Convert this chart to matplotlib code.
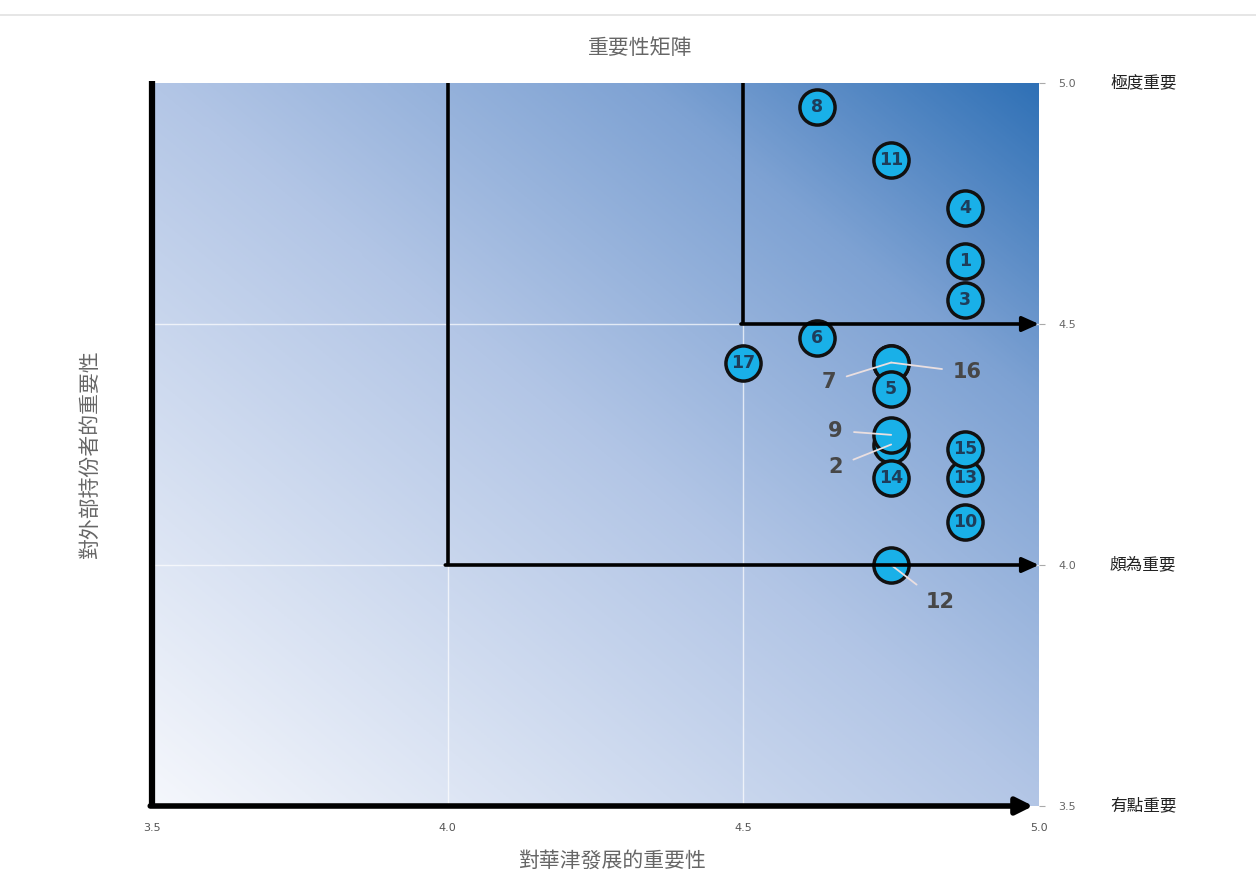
import numpy as np
import matplotlib
matplotlib.use("Agg")
import matplotlib.pyplot as plt
from matplotlib.colors import LinearSegmentedColormap
from matplotlib.lines import Line2D

plt.rcParams['font.family'] = ['Noto Sans CJK TC', 'DejaVu Sans']

# ---- data ----
ids = [1, 2, 3, 4, 5, 6, 7, 8, 9, 10, 11, 12, 13, 14, 15, 16, 17]
x_vals = [4.875, 4.75, 4.875, 4.875, 4.75, 4.625, 4.75, 4.625, 4.75, 4.875,
          4.75, 4.75, 4.875, 4.75, 4.875, 4.75, 4.5]
y_vals = [4.63, 4.25, 4.55, 4.74, 4.365, 4.47, 4.42, 4.95, 4.27, 4.09,
          4.84, 4.00, 4.18, 4.18, 4.24, 4.42, 4.42]
# ids whose number is written outside the circle, with label offset (points)
outside_ids = [7, 16, 9, 2, 12]
outside_offsets = [(-45, -14), (55, -7), (-40, 3), (-40, -16), (35, -27)]

tick_vals = [3.5, 4.0, 4.5, 5.0]
tick_labels = ["3.5", "4.0", "4.5", "5.0"]
level_vals = [5.0, 4.0, 3.5]
level_labels = ["極度重要", "頗為重要", "有點重要"]
title = "重要性矩陣"
xlabel = "對華津發展的重要性"
ylabel = "對外部持份者的重要性"

# ---- figure ----
fig = plt.figure(figsize=(12.56, 8.83), dpi=100)
L, R, T, B = 152, 1039, 83, 806
W, H = 1256, 883
ax = fig.add_axes([L / W, 1 - B / H, (R - L) / W, (B - T) / H])
ax.set_xlim(3.5, 5.0)
ax.set_ylim(3.5, 5.0)

# gradient background
cmap = LinearSegmentedColormap.from_list(
    "bg", [(0.0, "#f5f7fc"), (0.5, "#b3c6e6"), (0.78, "#7ea2d3"), (1.0, "#3071b6")])
gx, gy = np.meshgrid(np.linspace(0, 1, 300), np.linspace(0, 1, 300))
g = (gx + gy) / 2
ax.imshow(g, extent=(3.5, 5.0, 3.5, 5.0), origin="lower", cmap=cmap,
          aspect="auto", zorder=0, interpolation="bilinear")

# grid
for v in [4.0, 4.5]:
    ax.axvline(v, color="white", lw=1, alpha=0.7, zorder=1)
    ax.axhline(v, color="white", lw=1, alpha=0.7, zorder=1)

for s in ax.spines.values():
    s.set_visible(False)

# points: circles with outside labels drawn first, others on top
order = sorted(range(len(ids)), key=lambda k: (ids[k] not in outside_ids, ids[k]))
for z, k in enumerate(order):
    i, xv, yv = ids[k], x_vals[k], y_vals[k]
    zz = 3 + z * 0.01
    ax.scatter([xv], [yv], s=640, facecolor="#19b0e8", edgecolor="#111111",
               linewidth=2.5, zorder=zz, clip_on=False)
    if i not in outside_ids:
        ax.text(xv, yv, str(i), ha="center", va="center", fontsize=12.5,
                fontweight="bold", color="#1e3d5a", fontfamily="DejaVu Sans",
                zorder=zz + 0.005)

for i, off in zip(outside_ids, outside_offsets):
    k = ids.index(i)
    ax.annotate(str(i), (x_vals[k], y_vals[k]), xytext=off,
                textcoords="offset points", ha="center", va="center",
                fontsize=15, fontweight="bold", color="#474747",
                fontfamily="DejaVu Sans",
                arrowprops=dict(arrowstyle="-", color="#eadfe0", lw=1.3,
                                shrinkA=6, shrinkB=0),
                zorder=4)

# quadrant lines
def arrow(y, x0, lw):
    ax.annotate("", xy=(5.0, y), xytext=(x0, y),
                arrowprops=dict(arrowstyle="-|>,head_length=1.0,head_width=0.45",
                                color="black", lw=lw, shrinkA=0, shrinkB=0),
                zorder=5, annotation_clip=False)

ax.plot([4.0, 4.0], [5.0, 4.0], color="black", lw=2.6, zorder=5,
        solid_capstyle="butt", clip_on=False)
arrow(4.0, 4.0 - 0.004, 2.6)
ax.plot([4.5, 4.5], [5.0, 4.5], color="black", lw=2.6, zorder=5,
        solid_capstyle="butt", clip_on=False)
arrow(4.5, 4.5 - 0.004, 2.6)
ax.plot([3.5, 3.5], [5.005, 3.497], color="black", lw=4.5, zorder=5,
        solid_capstyle="butt", clip_on=False)
ax.annotate("", xy=(4.99, 3.5), xytext=(3.497, 3.5),
            arrowprops=dict(arrowstyle="-|>,head_length=1.0,head_width=0.5",
                            color="black", lw=4.0, shrinkA=0, shrinkB=0),
            zorder=5, annotation_clip=False)

# ticks
ax.set_xticks(tick_vals)
ax.set_xticklabels(tick_labels, fontsize=8, color="#555555", fontfamily="DejaVu Sans")
ax.tick_params(axis="x", length=0, pad=12)
ax.yaxis.tick_right()
ax.set_yticks(tick_vals)
ax.set_yticklabels(tick_labels, fontsize=8, color="#666666", fontfamily="DejaVu Sans")
ax.tick_params(axis="y", length=4, color="#aaaaaa", pad=10)

for v, lab in zip(level_vals, level_labels):
    ax.text(1.08, (v - 3.5) / 1.5, lab, transform=ax.transAxes, ha="left",
            va="center", fontsize=12, color="#222222")

fig.text(640 / W, 1 - 48 / H, title, ha="center", va="center", fontsize=15,
         color="#666666")
fig.text(612 / W, 1 - 861 / H, xlabel, ha="center", va="center", fontsize=15,
         color="#666666")
fig.text(90 / W, 1 - 455 / H, ylabel, ha="center", va="center", fontsize=15,
         color="#666666", rotation=90)

fig.add_artist(Line2D([0, 1], [1 - 15 / H, 1 - 15 / H], color="#e2e2e2", lw=1.2,
                      transform=fig.transFigure))

fig.savefig("out.png", dpi=100)
